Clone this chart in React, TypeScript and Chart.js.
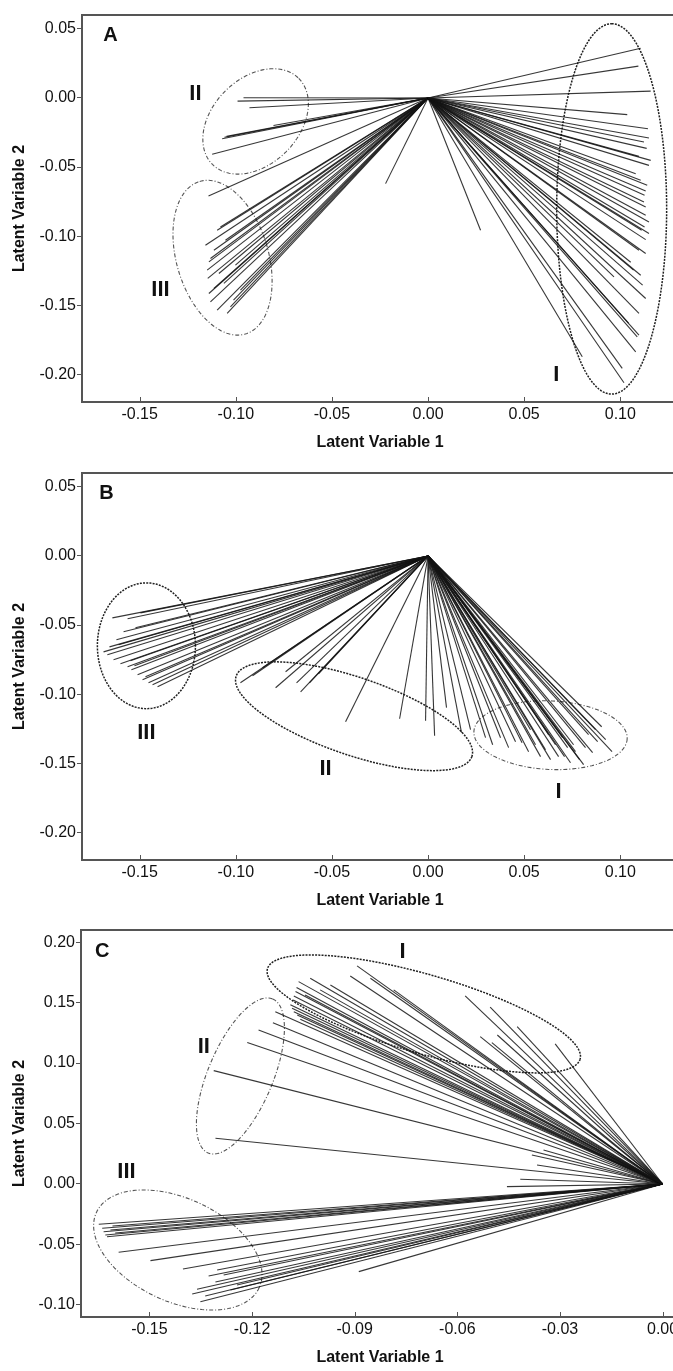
import React, { useEffect, useRef } from 'react';
import { Chart, registerables } from 'chart.js';
Chart.register(...registerables);

type Pt = [number, number];

// ---------- tick labels ----------
const AB_X_TICKS = [-0.15, -0.1, -0.05, 0.0, 0.05, 0.1];
const AB_Y_TICKS = [-0.2, -0.15, -0.1, -0.05, 0.0, 0.05];
const C_X_TICKS = [-0.15, -0.12, -0.09, -0.06, -0.03, 0.0];
const C_Y_TICKS = [-0.1, -0.05, 0.0, 0.05, 0.1, 0.15, 0.2];

// ---------- Panel A loadings (end points; every line starts at the origin) ----------
const A_GROUP_I: Pt[] = [
  [0.1106, 0.036], [0.1094, 0.023], [0.1158, 0.0049], [0.1036, -0.0121], [0.1144, -0.0223],
  [0.1149, -0.029], [0.1123, -0.0319], [0.1137, -0.0365], [0.1097, -0.0423], [0.1158, -0.0452],
  [0.1149, -0.0488], [0.108, -0.0548], [0.1106, -0.0596], [0.114, -0.0632], [0.1132, -0.0673],
  [0.1126, -0.0704], [0.1123, -0.0753], [0.1132, -0.0789], [0.1132, -0.0849], [0.1149, -0.0897],
  [0.1126, -0.0934], [0.1111, -0.0957], [0.1149, -0.0981], [0.1132, -0.1025], [0.1097, -0.1102],
  [0.1132, -0.1126], [0.1054, -0.1189], [0.1069, -0.1246], [0.1106, -0.1283], [0.0967, -0.1295],
  [0.1116, -0.1355], [0.1132, -0.1451], [0.1097, -0.1559], [0.1043, -0.1629], [0.1097, -0.1716],
  [0.1088, -0.1728], [0.108, -0.1837], [0.0802, -0.1873], [0.101, -0.1957], [0.1019, -0.2061],
];
const A_OTHER: Pt[] = [[0.0273, -0.0957], [-0.0221, -0.062]];
const A_GROUP_II: Pt[] = [
  [-0.096, 0.0001], [-0.0991, -0.0023], [-0.0929, -0.0071], [-0.0804, -0.0199], [-0.1048, -0.0278],
  [-0.1059, -0.0285], [-0.1071, -0.0295], [-0.1123, -0.0408], [-0.1142, -0.071],
];
const A_GROUP_III: Pt[] = [
  [-0.108, -0.0934], [-0.1097, -0.0957], [-0.1054, -0.103], [-0.1158, -0.1066], [-0.1114, -0.1102],
  [-0.1132, -0.1162], [-0.114, -0.1186], [-0.1002, -0.121], [-0.1149, -0.1246], [-0.1088, -0.127],
  [-0.1146, -0.1306], [-0.1062, -0.1342], [-0.1114, -0.1379], [-0.0976, -0.1391], [-0.114, -0.1415],
  [-0.1012, -0.1463], [-0.1132, -0.1475], [-0.1028, -0.1512], [-0.1097, -0.1535], [-0.1045, -0.1559],
];

// ---------- Panel B ----------
const B_GROUP_I: Pt[] = [
  [0.0096, -0.1098], [0.0174, -0.1279], [0.0221, -0.1257], [0.0299, -0.1315], [0.0336, -0.1366],
  [0.0377, -0.1315], [0.0419, -0.1387], [0.0455, -0.1344], [0.0489, -0.1351], [0.0523, -0.1416],
  [0.0533, -0.1257], [0.0559, -0.1366], [0.0585, -0.1452], [0.0611, -0.1402], [0.0627, -0.1293],
  [0.0637, -0.1474], [0.0663, -0.1366], [0.0679, -0.1452], [0.07, -0.1315], [0.071, -0.1452],
  [0.0726, -0.1387], [0.0741, -0.1496], [0.0757, -0.1366], [0.0767, -0.1416], [0.0788, -0.1474],
  [0.0809, -0.151], [0.0819, -0.1387], [0.0835, -0.1293], [0.0856, -0.1423], [0.0871, -0.1257],
  [0.0882, -0.1344], [0.0903, -0.1236], [0.0924, -0.1329], [0.0957, -0.1416],
];
const B_GROUP_II: Pt[] = [
  [-0.0976, -0.0918], [-0.0913, -0.0867], [-0.0861, -0.0809], [-0.0793, -0.0954], [-0.0741, -0.0838],
  [-0.0684, -0.0918], [-0.0663, -0.0983], [-0.0617, -0.0918], [-0.057, -0.0853], [-0.0429, -0.1199],
  [-0.0148, -0.1178], [-0.0013, -0.1192], [0.0034, -0.1301],
];
const B_GROUP_III: Pt[] = [
  [-0.1642, -0.0448], [-0.1563, -0.0455], [-0.1496, -0.0412], [-0.1584, -0.0549], [-0.1522, -0.052],
  [-0.1621, -0.0607], [-0.161, -0.0643], [-0.1657, -0.0658], [-0.1688, -0.0694], [-0.1668, -0.0715],
  [-0.1636, -0.0751], [-0.1548, -0.0759], [-0.16, -0.078], [-0.1527, -0.0795], [-0.1563, -0.0802],
  [-0.1543, -0.0824], [-0.1511, -0.086], [-0.147, -0.0874], [-0.1485, -0.0896], [-0.1454, -0.0918],
  [-0.1433, -0.0932], [-0.1407, -0.0947],
];

// ---------- Panel C ----------
const C_GROUP_I: Pt[] = [
  [-0.0893, 0.1803], [-0.0913, 0.172], [-0.103, 0.1701], [-0.0854, 0.1701], [-0.1064, 0.1673],
  [-0.0971, 0.1646], [-0.107, 0.1624], [-0.0786, 0.1605], [-0.1001, 0.1605], [-0.1073, 0.1591],
  [-0.1045, 0.1563], [-0.1078, 0.1555], [-0.0577, 0.1555], [-0.108, 0.1522], [-0.1088, 0.1481],
  [-0.0504, 0.1462], [-0.1083, 0.1453], [-0.1078, 0.1425], [-0.1068, 0.1398], [-0.1059, 0.1362],
  [-0.0425, 0.1301], [-0.0483, 0.1232], [-0.0533, 0.1218], [-0.0499, 0.1169], [-0.0314, 0.1158],
];
const C_GROUP_II: Pt[] = [
  [-0.1132, 0.1425], [-0.1139, 0.1334], [-0.1181, 0.1274], [-0.1214, 0.1169], [-0.1312, 0.0937],
  [-0.1307, 0.0378], [-0.0348, 0.0281], [-0.0382, 0.024], [-0.0367, 0.0157], [-0.0416, 0.0039],
  [-0.0455, -0.0022],
];
const C_GROUP_III: Pt[] = [
  [-0.1648, -0.0333], [-0.1608, -0.0347], [-0.1638, -0.0366], [-0.1614, -0.038], [-0.1634, -0.0395],
  [-0.16, -0.0405], [-0.1629, -0.0422], [-0.1624, -0.0436], [-0.159, -0.0565], [-0.1497, -0.0634],
  [-0.1402, -0.0703], [-0.1302, -0.0711], [-0.0888, -0.0725], [-0.1283, -0.0753], [-0.1327, -0.0761],
  [-0.1307, -0.0811], [-0.1244, -0.0835], [-0.1361, -0.0871], [-0.1263, -0.0877], [-0.1375, -0.091],
  [-0.1337, -0.0926], [-0.1351, -0.0974],
];

// ---------- cluster ellipses: centre + two conjugate semi-axis vectors (data units) ----------
interface Ell { cx: number; cy: number; ax: number; ay: number; bx: number; by: number; dense: boolean }
const A_ELLIPSES: Ell[] = [
  { cx: 0.0955, cy: -0.0803, ax: 0, ay: 0.134, bx: 0.0286, by: 0, dense: true },
  { cx: -0.0897, cy: -0.017, ax: 0.02243, ay: 0.03115, bx: 0.01582, by: -0.02197, dense: false },
  { cx: -0.1069, cy: -0.1156, ax: -0.01186, ay: 0.0552, bx: 0.02289, by: 0.00947, dense: false },
];
const B_ELLIPSES: Ell[] = [
  { cx: 0.0637, cy: -0.1297, ax: 0.03986, ay: -0.0026, bx: -0.00083, by: -0.02478, dense: false },
  { cx: -0.0385, cy: -0.116, ax: 0.0613, ay: -0.0291, bx: -0.00656, by: -0.0265, dense: true },
  { cx: -0.1465, cy: -0.065, ax: 0.0255, ay: 0, bx: 0, by: 0.0455, dense: true },
];
const C_ELLIPSES: Ell[] = [
  { cx: -0.0698, cy: 0.1406, ax: 0.0457, ay: -0.0374, bx: -0.00319, by: -0.0313, dense: true },
  { cx: -0.1234, cy: 0.0893, ax: 0.00941, ay: 0.0637, bx: 0.00877, by: -0.01034, dense: false },
  { cx: -0.1417, cy: -0.0546, ax: 0.02379, ay: -0.0311, bx: -0.00631, by: -0.0387, dense: false },
];

// ---------- text labels (data coordinates) ----------
interface Lbl { text: string; x: number; y: number; size: number }
const A_LABELS: Lbl[] = [
  { text: 'A', x: -0.1652, y: 0.0452, size: 20 },
  { text: 'II', x: -0.121, y: 0.003, size: 22 },
  { text: 'III', x: -0.1392, y: -0.1386, size: 22 },
  { text: 'I', x: 0.0667, y: -0.2005, size: 22 },
];
const B_LABELS: Lbl[] = [
  { text: 'B', x: -0.1673, y: 0.0453, size: 20 },
  { text: 'III', x: -0.1465, y: -0.1281, size: 22 },
  { text: 'II', x: -0.0533, y: -0.1539, size: 22 },
  { text: 'I', x: 0.0679, y: -0.171, size: 22 },
];
const C_LABELS: Lbl[] = [
  { text: 'C', x: -0.1638, y: 0.1921, size: 20 },
  { text: 'II', x: -0.1341, y: 0.1136, size: 22 },
  { text: 'I', x: -0.076, y: 0.1921, size: 22 },
  { text: 'III', x: -0.1567, y: 0.0097, size: 22 },
];

const FONT = '"Liberation Sans", Arial, Helvetica, sans-serif';

interface PanelSpec {
  top: number;
  width: number;
  yAxisWidth: number;
  xMin: number; xMax: number; yMin: number; yMax: number;
  xTicks: number[]; yTicks: number[];
  lines: Pt[];
  ellipses: Ell[];
  labels: Lbl[];
}

function ellipsePoints(e: Ell) {
  const pts: { x: number; y: number }[] = [];
  const n = 160;
  for (let i = 0; i <= n; i++) {
    const t = (2 * Math.PI * i) / n;
    pts.push({ x: e.cx + Math.cos(t) * e.ax + Math.sin(t) * e.bx, y: e.cy + Math.cos(t) * e.ay + Math.sin(t) * e.by });
  }
  return pts;
}

function Panel({ spec }: { spec: PanelSpec }) {
  const ref = useRef<HTMLCanvasElement | null>(null);
  useEffect(() => {
    if (!ref.current) return;
    const datasets: any[] = [];
    spec.lines.forEach(([x, y]) => {
      datasets.push({
        data: [{ x: 0, y: 0 }, { x, y }],
        showLine: true,
        borderColor: 'rgba(20,20,20,0.85)',
        borderWidth: 1.1,
        pointRadius: 0,
        tension: 0,
      });
    });
    spec.ellipses.forEach((e) => {
      datasets.push({
        data: ellipsePoints(e),
        showLine: true,
        borderColor: e.dense ? 'rgba(20,20,20,0.95)' : 'rgba(55,55,55,0.85)',
        borderWidth: e.dense ? 1.5 : 1.1,
        borderDash: e.dense ? [2, 1.2] : [4, 2, 1, 2],
        pointRadius: 0,
        tension: 0,
      });
    });
    const decor = {
      id: 'decor',
      afterDraw(chart: any) {
        const { ctx, chartArea, scales } = chart;
        ctx.save();
        ctx.strokeStyle = '#555';
        ctx.lineWidth = 2;
        ctx.beginPath();
        ctx.moveTo(chartArea.left - 1, chartArea.top);
        ctx.lineTo(chartArea.right, chartArea.top);
        ctx.stroke();
        ctx.lineWidth = 1;
        ctx.beginPath();
        for (const v of spec.xTicks) {
          const px = Math.round(scales.x.getPixelForValue(v)) + 0.5;
          ctx.moveTo(px, chartArea.bottom);
          ctx.lineTo(px, chartArea.bottom - 5);
        }
        ctx.stroke();
        ctx.fillStyle = '#111';
        ctx.textAlign = 'center';
        ctx.textBaseline = 'middle';
        for (const l of spec.labels) {
          ctx.font = `bold ${l.size}px ${FONT}`;
          ctx.fillText(l.text, scales.x.getPixelForValue(l.x), scales.y.getPixelForValue(l.y));
        }
        ctx.restore();
      },
    };
    const chart = new Chart(ref.current, {
      type: 'scatter',
      data: { datasets },
      options: {
        animation: false,
        responsive: false,
        devicePixelRatio: 1,
        layout: { padding: { top: 15, left: 0, right: 0, bottom: 0 } },
        plugins: { legend: { display: false }, tooltip: { enabled: false } },
        events: [],
        scales: {
          x: {
            type: 'linear',
            min: spec.xMin,
            max: spec.xMax,
            afterBuildTicks: (s: any) => { s.ticks = spec.xTicks.map((v) => ({ value: v })); },
            afterFit: (s: any) => { s.height = 52; s.paddingLeft = 0; s.paddingRight = 0; },
            grid: { display: true, drawOnChartArea: false, drawTicks: false },
            border: { display: true, color: '#555', width: 2 },
            ticks: {
              padding: 3,
              color: '#111',
              font: { size: 16, family: FONT },
              maxRotation: 0,
              callback: (v: any) => Number(v).toFixed(2),
            },
            title: {
              display: true,
              text: 'Latent Variable 1',
              color: '#111',
              font: { size: 16, weight: 'bold', family: FONT },
              padding: { top: 0, bottom: 2 },
            },
          },
          y: {
            type: 'linear',
            min: spec.yMin,
            max: spec.yMax,
            afterBuildTicks: (s: any) => { s.ticks = spec.yTicks.map((v) => ({ value: v })); },
            afterFit: (s: any) => { s.width = spec.yAxisWidth; },
            grid: { display: true, drawOnChartArea: false, drawTicks: true, tickLength: 5, color: '#555' },
            border: { display: true, color: '#555', width: 2 },
            ticks: {
              padding: 1,
              color: '#111',
              font: { size: 16, family: FONT },
              callback: (v: any) => Number(v).toFixed(2),
            },
            title: {
              display: true,
              text: 'Latent Variable 2',
              color: '#111',
              font: { size: 16, weight: 'bold', family: FONT },
              padding: { top: 10, bottom: 0 },
            },
          },
        },
      } as any,
      plugins: [decor],
    });
    return () => chart.destroy();
  }, [spec]);
  return (
    <canvas
      ref={ref}
      width={spec.width}
      height={454}
      style={{ position: 'absolute', left: 0, top: spec.top, width: spec.width, height: 454 }}
    />
  );
}

const PANEL_A: PanelSpec = {
  top: 0, width: 678, yAxisWidth: 82,
  xMin: -0.18, xMax: 0.13, yMin: -0.22, yMax: 0.06,
  xTicks: AB_X_TICKS, yTicks: AB_Y_TICKS,
  lines: [...A_GROUP_I, ...A_OTHER, ...A_GROUP_II, ...A_GROUP_III],
  ellipses: A_ELLIPSES, labels: A_LABELS,
};
const PANEL_B: PanelSpec = {
  top: 458, width: 678, yAxisWidth: 82,
  xMin: -0.18, xMax: 0.13, yMin: -0.22, yMax: 0.06,
  xTicks: AB_X_TICKS, yTicks: AB_Y_TICKS,
  lines: [...B_GROUP_I, ...B_GROUP_II, ...B_GROUP_III],
  ellipses: B_ELLIPSES, labels: B_LABELS,
};
const PANEL_C: PanelSpec = {
  top: 915, width: 679, yAxisWidth: 81,
  xMin: -0.17, xMax: 0.0048, yMin: -0.11, yMax: 0.21,
  xTicks: C_X_TICKS, yTicks: C_Y_TICKS,
  lines: [...C_GROUP_I, ...C_GROUP_II, ...C_GROUP_III],
  ellipses: C_ELLIPSES, labels: C_LABELS,
};

export default function App() {
  return (
    <div
      style={{
        position: 'absolute', left: 0, top: 0, width: 673, height: 1371,
        overflow: 'hidden', background: '#fff',
      }}
    >
      <Panel spec={PANEL_A} />
      <Panel spec={PANEL_B} />
      <Panel spec={PANEL_C} />
    </div>
  );
}
